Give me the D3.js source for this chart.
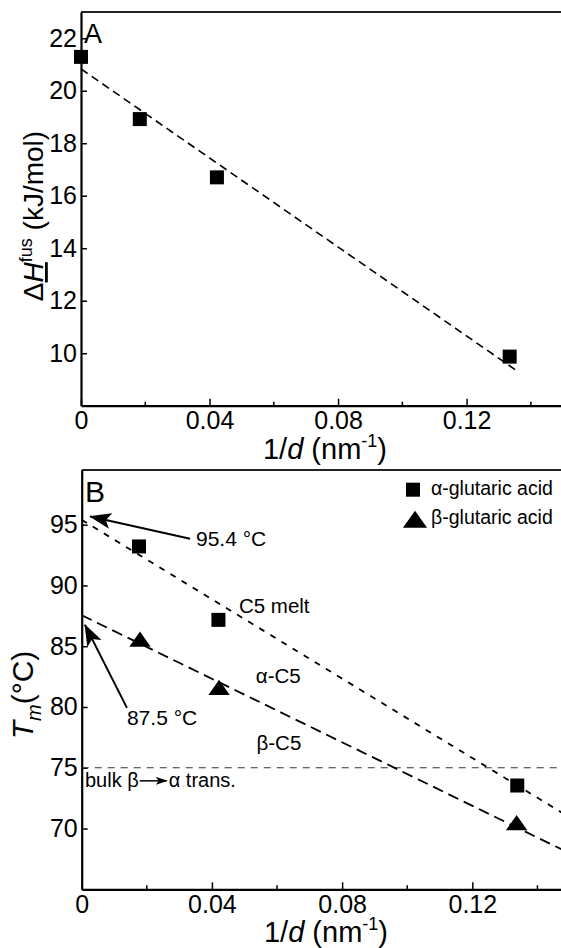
<!DOCTYPE html>
<html>
<head>
<meta charset="utf-8">
<script src="https://cdn.jsdelivr.net/npm/d3@7"></script>
<style>
  body { margin: 0; background: #fff; }
  svg { display: block; font-family: "Liberation Sans", Arial, sans-serif; }
</style>
</head>
<body>
<div id="chart"></div>
<script>
// Panel A: enthalpy of fusion vs 1/d
const invDA = [0, 0.0183, 0.0423, 0.1334];
const dHfus = [21.29, 18.92, 16.70, 9.87];
const fitA = [[0, 20.83], [0.1354, 9.35]];

// Panel B: melting points vs 1/d
const invDAlpha = [0.0176, 0.0420, 0.1338];
const tmAlpha = [93.21, 87.17, 73.54];
const invDBeta = [0.0179, 0.0422, 0.1336];
const tmBeta = [85.38, 81.40, 70.27];
const fitMelt = [[0, 95.4], [0.15, 70.9]];
const fitBeta = [[0, 87.55], [0.15, 67.95]];
const bulkTransition = 75;

const xMajor = [0, 0.04, 0.08, 0.12];
const xMinor = [0.02, 0.06, 0.10, 0.14];
const yTicksA = [10, 12, 14, 16, 18, 20, 22];
const yTicksB = [70, 75, 80, 85, 90, 95];

const legendLabels = ["\u03b1-glutaric acid", "\u03b2-glutaric acid"];

// annotation arrows: [tail, tip] in data units
const arrowMelt = [[0.0333, 93.85], [0.0026, 95.68]];
const arrowBeta = [[0.0139, 79.93], [0.0010, 86.76]];

const W = 561, H = 948;
const svg = d3.select('#chart').append('svg')
  .attr('width', W)
  .attr('height', H);

const defs = svg.append('defs');
defs.append('marker')
  .attr('id', 'bigHead')
  .attr('markerUnits', 'userSpaceOnUse')
  .attr('viewBox', '0 -8 22 16')
  .attr('refX', 21).attr('refY', 0)
  .attr('markerWidth', 22).attr('markerHeight', 16)
  .attr('orient', 'auto')
  .append('path')
  .attr('d', 'M0,-8 L22,0 L0,8 L5,0 Z')
  .attr('fill', '#000');
defs.append('marker')
  .attr('id', 'smallHead')
  .attr('markerUnits', 'userSpaceOnUse')
  .attr('viewBox', '0 -4 12 8')
  .attr('refX', 11).attr('refY', 0)
  .attr('markerWidth', 12).attr('markerHeight', 8)
  .attr('orient', 'auto')
  .append('path')
  .attr('d', 'M0,-4 L12,0 L0,4 L3,0 Z')
  .attr('fill', '#000');

const tickFont = 25;

function drawFrame(g, x, y, yTicks, id) {
  const [x0, x1] = x.range();
  const [y0, y1] = y.range();

  g.append('clipPath').attr('id', id)
    .append('rect')
    .attr('x', x0).attr('y', y1)
    .attr('width', x1 - x0).attr('height', y0 - y1);

  // top border
  g.append('line')
    .attr('x1', x0).attr('x2', x1)
    .attr('y1', y1).attr('y2', y1)
    .attr('stroke', '#222').attr('stroke-width', 1.8);

  const fmt = d => d === 0 ? '0' : d3.format('.2f')(d);
  const xAxis = g.append('g')
    .attr('transform', `translate(0,${y0})`)
    .call(d3.axisBottom(x).tickValues(xMajor).tickFormat(fmt)
      .tickSizeInner(-7).tickSizeOuter(0).tickPadding(6));
  xAxis.append('g').selectAll('line')
    .data(xMinor)
    .join('line')
    .attr('x1', d => x(d)).attr('x2', d => x(d))
    .attr('y1', 0).attr('y2', -4)
    .attr('stroke', '#000').attr('stroke-width', 1.5);

  const yAxis = g.append('g')
    .attr('transform', `translate(${x0},0)`)
    .call(d3.axisLeft(y).tickValues(yTicks)
      .tickSizeInner(-6).tickSizeOuter(0).tickPadding(4));

  [xAxis, yAxis].forEach(a => {
    a.select('.domain').attr('stroke', '#000').attr('stroke-width', 2.2);
    a.selectAll('.tick line').attr('stroke', '#000').attr('stroke-width', 1.5);
    a.selectAll('.tick text')
      .attr('fill', '#000')
      .style('font-family', '"Liberation Sans", Arial, sans-serif')
      .style('font-size', tickFont + 'px');
  });
}

function xTitle(g, cx, baseline) {
  const t = g.append('text')
    .attr('x', cx).attr('y', baseline)
    .attr('text-anchor', 'middle')
    .style('font-size', '29px');
  t.append('tspan').text('1/');
  t.append('tspan').style('font-style', 'italic').text('d');
  t.append('tspan').text(' (nm');
  t.append('tspan').attr('dy', -12).style('font-size', '18px').text('-1');
  t.append('tspan').attr('dy', 12).text(')');
}

const line = (x, y) => d3.line().x(d => x(d[0])).y(d => y(d[1]));

// ---------- Panel A ----------
const xA = d3.scaleLinear().domain([0, 0.15]).range([81, 563]);
const yA = d3.scaleLinear().domain([8, 23]).range([405.7, 12]);
const gA = svg.append('g');
drawFrame(gA, xA, yA, yTicksA, 'clipA');

gA.append('path')
  .datum(fitA)
  .attr('d', line(xA, yA))
  .attr('fill', 'none').attr('stroke', '#000')
  .attr('stroke-width', 1.6).attr('stroke-dasharray', '8,5');

gA.append('g').selectAll('rect')
  .data(invDA.map((d, i) => [d, dHfus[i]]))
  .join('rect')
  .attr('x', d => xA(d[0]) - 7).attr('y', d => yA(d[1]) - 7)
  .attr('width', 14).attr('height', 14)
  .attr('fill', '#000');

gA.append('text')
  .attr('x', 84).attr('y', 43)
  .style('font-size', '27px')
  .text('A');

const yTitleA = gA.append('text')
  .attr('transform', 'translate(43,216) rotate(-90)')
  .attr('text-anchor', 'middle')
  .style('font-size', '28px');
yTitleA.append('tspan').text('\u0394');
yTitleA.append('tspan').style('font-style', 'italic').style('text-decoration', 'underline').text('H');
yTitleA.append('tspan').attr('dy', -11).style('font-size', '18px').text('fus');
yTitleA.append('tspan').attr('dy', 11).text(' (kJ/mol)');

xTitle(gA, 325, 459);

// ---------- Panel B ----------
const xB = d3.scaleLinear().domain([0, 0.15]).range([81.7, 570]);
const yB = d3.scaleLinear().domain([65, 99.5]).range([889.3, 470]);
const gB = svg.append('g');
drawFrame(gB, xB, yB, yTicksB, 'clipB');

const plotB = gB.append('g').attr('clip-path', 'url(#clipB)');

plotB.append('line')
  .attr('x1', xB(0)).attr('x2', xB(0.15))
  .attr('y1', yB(bulkTransition)).attr('y2', yB(bulkTransition))
  .attr('stroke', '#333').attr('stroke-width', 1.2)
  .attr('stroke-dasharray', '7,6');

plotB.append('path')
  .datum(fitMelt)
  .attr('d', line(xB, yB))
  .attr('fill', 'none').attr('stroke', '#000')
  .attr('stroke-width', 1.8).attr('stroke-dasharray', '6,7');

plotB.append('path')
  .datum(fitBeta)
  .attr('d', line(xB, yB))
  .attr('fill', 'none').attr('stroke', '#000')
  .attr('stroke-width', 1.8).attr('stroke-dasharray', '11,6');

plotB.append('g').selectAll('rect')
  .data(invDAlpha.map((d, i) => [d, tmAlpha[i]]))
  .join('rect')
  .attr('x', d => xB(d[0]) - 7).attr('y', d => yB(d[1]) - 7)
  .attr('width', 14).attr('height', 14)
  .attr('fill', '#000');

const tri = d3.symbol().type(d3.symbolTriangle).size(150);
plotB.append('g').selectAll('path')
  .data(invDBeta.map((d, i) => [d, tmBeta[i]]))
  .join('path')
  .attr('transform', d => `translate(${xB(d[0])},${yB(d[1])}) scale(1.15,0.95)`)
  .attr('d', tri)
  .attr('fill', '#000');

// arrows
[arrowMelt, arrowBeta].forEach(a => {
  gB.append('line')
    .attr('x1', xB(a[0][0])).attr('y1', yB(a[0][1]))
    .attr('x2', xB(a[1][0])).attr('y2', yB(a[1][1]))
    .attr('stroke', '#000').attr('stroke-width', 2)
    .attr('marker-end', 'url(#bigHead)');
});

const notes = [
  { text: '95.4 \u00b0C', x: 0.0351, y: 93.27, size: 21 },
  { text: '87.5 \u00b0C', x: 0.0139, y: 78.51, size: 21 },
  { text: 'C5 melt', x: 0.0483, y: 87.77, size: 20.5 },
  { text: '\u03b1-C5', x: 0.0535, y: 82.0, size: 20.5 },
  { text: '\u03b2-C5', x: 0.0537, y: 76.45, size: 20.5 },
];
gB.append('g').selectAll('text')
  .data(notes)
  .join('text')
  .attr('x', d => xB(d.x)).attr('y', d => yB(d.y))
  .style('font-size', d => d.size + 'px')
  .text(d => d.text);

// bulk beta -> alpha transition label
const bulkY = yB(73.43);
const bulk1 = gB.append('text')
  .attr('x', xB(0.001)).attr('y', bulkY)
  .style('font-size', '20px')
  .text('bulk \u03b2');
const w1 = bulk1.node().getComputedTextLength();
const ax0 = xB(0.001) + w1 + 1;
gB.append('line')
  .attr('x1', ax0).attr('x2', ax0 + 27)
  .attr('y1', bulkY - 6).attr('y2', bulkY - 6)
  .attr('stroke', '#000').attr('stroke-width', 1.5)
  .attr('marker-end', 'url(#smallHead)');
gB.append('text')
  .attr('x', ax0 + 29).attr('y', bulkY)
  .style('font-size', '20px')
  .text('\u03b1 trans.');

gB.append('text')
  .attr('x', 85).attr('y', 501.7)
  .style('font-size', '30px')
  .text('B');

// legend
const legend = gB.append('g');
legend.append('rect')
  .attr('x', 406).attr('y', 482.7)
  .attr('width', 14).attr('height', 14)
  .attr('fill', '#000');
legend.append('path')
  .attr('transform', 'translate(415,522) scale(1.3,1.05)')
  .attr('d', tri)
  .attr('fill', '#000');
legend.selectAll('text')
  .data(legendLabels)
  .join('text')
  .attr('x', 431).attr('y', (d, i) => i === 0 ? 495 : 524.3)
  .style('font-size', '19.5px')
  .text(d => d);

const yTitleB = gB.append('text')
  .attr('transform', 'translate(33,695) rotate(-90)')
  .attr('text-anchor', 'middle')
  .style('font-size', '30px');
yTitleB.append('tspan').style('font-style', 'italic').text('T');
yTitleB.append('tspan').attr('dy', 8).style('font-size', '20px').style('font-style', 'italic').text('m');
yTitleB.append('tspan').attr('dy', -8).text('(\u00b0C)');

xTitle(gB, 326, 942);
</script>
</body>
</html>
